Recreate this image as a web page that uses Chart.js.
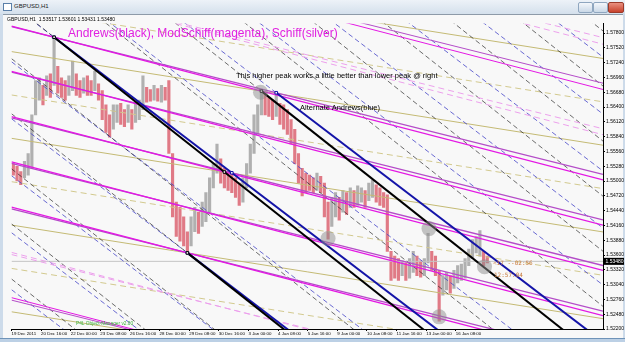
<!DOCTYPE html>
<html>
<head>
<meta charset="utf-8">
<script src="https://cdn.jsdelivr.net/npm/chart.js@4.4.1/dist/chart.umd.min.js"></script>
<style>
  html, body { margin:0; padding:0; }
  body { width:625px; height:342px; overflow:hidden; position:relative; background:#cddbea; font-family:"Liberation Sans", Arial, sans-serif; }
  .titlebar { position:absolute; left:0; top:0; width:625px; height:14px; background:linear-gradient(#edf2f8,#d4e0ec); }
  .ico { position:absolute; left:3px; top:3px; width:7px; height:6px; border:1px solid #5a7fa8; background:#fff; }
  .ttl { position:absolute; left:14px; top:3px; font-size:6px; color:#1a1a1a; }
  .btn { position:absolute; top:2px; height:9px; border:1px solid #8fa6bf; border-radius:2px; background:linear-gradient(#f4f7fb,#cad8e7); }
  .btn.close { background:linear-gradient(#e99080,#c8422c); border-color:#9b3a2a; }
  .panel { position:absolute; left:3px; top:14px; width:620px; height:324px; background:#f8f8f8; border-top:1px solid #8d9aa8; box-sizing:border-box; }
  .bottom { position:absolute; left:0; top:338px; width:625px; height:4px; background:#bcd0e5; border-top:1px solid #6f93b8; box-sizing:border-box; }
  #wrap { position:absolute; left:4px; top:16px; width:620px; height:322px; }
  .txt { position:absolute; white-space:nowrap; line-height:1; }
</style>
</head>
<body>
<div class="titlebar"></div>
<div class="ico"></div>
<div class="ttl">GBPUSD,H1</div>
<div class="btn" style="left:578px;width:13px"></div>
<div class="btn" style="left:593px;width:13px"></div>
<div class="btn close" style="left:608px;width:14px"></div>
<div class="panel"></div>
<div class="bottom"></div>
<div id="wrap"><canvas id="chart" width="620" height="322"></canvas></div>

<div class="txt" style="left:7px;top:17px;font-size:5px;color:#000">GBPUSD,H1&nbsp; 1.53517 1.53601 1.53431 1.53480</div>
<div class="txt" style="left:68px;top:27px;font-size:12px;color:#e020e0">Andrews(black), ModSchiff(magenta), Schiff(silver)</div>
<div class="txt" style="left:236px;top:72px;font-size:7.5px;color:#000">This higher peak works a little better than lower peak @ right</div>
<div class="txt" style="left:300px;top:104px;font-size:7.5px;color:#000">Alternate Andrews(blue)</div>
<div class="txt" style="left:493px;top:260px;font-size:6px;color:#c87a3c;font-family:'DejaVu Sans Mono',monospace">&lt;17 --02:56</div>
<div class="txt" style="left:494px;top:272px;font-size:6px;color:#c87a3c;font-family:'DejaVu Sans Mono',monospace">12:57:04</div>
<div class="txt" style="left:76px;top:322px;font-size:4.8px;color:#3cb43c">P4L Object-Manager v2.00</div>

<script>
// time axis: one unit = one H1 bar, labels every 32 bars
var xLabels = ['19 Dec 2011', '20 Dec 16:00', '22 Dec 00:00', '23 Dec 08:00', '26 Dec 16:00', '28 Dec 00:00',
  '29 Dec 08:00', '30 Dec 16:00', '3 Jan 00:00', '4 Jan 08:00', '5 Jan 16:00', '9 Jan 00:00',
  '10 Jan 08:00', '11 Jan 16:00', '13 Jan 00:00', '16 Jan 08:00'];
var xLabelBars = [0, 32, 64, 96, 128, 160, 192, 224, 256, 288, 320, 352, 384, 416, 448, 480];
var yTicks = [1.52200, 1.52480, 1.52760, 1.53040, 1.53320, 1.53600, 1.53880, 1.54160, 1.54440, 1.54720, 1.55000,
  1.55280, 1.55560, 1.55840, 1.56120, 1.56400, 1.56680, 1.56960, 1.57240, 1.57520, 1.57800];

// price samples, one every 4 bars (high / low)
var sampleStep = 4;
var highs = [1.5533, 1.5528, 1.5518, 1.5537, 1.5552, 1.5625, 1.5690, 1.5695, 1.5681, 1.5699,
  1.5703, 1.5773, 1.5717, 1.5695, 1.5690, 1.5699, 1.5727, 1.5703, 1.5690, 1.5695,
  1.5699, 1.5690, 1.5708, 1.5684, 1.5671, 1.5644, 1.5625, 1.5644, 1.5644, 1.5647,
  1.5635, 1.5644, 1.5635, 1.5647, 1.5653, 1.5699, 1.5677, 1.5673, 1.5681, 1.5675,
  1.5681, 1.5677, 1.5690, 1.5552, 1.5460, 1.5450, 1.5432, 1.5404, 1.5432, 1.5450,
  1.5441, 1.5460, 1.5478, 1.5506, 1.5533, 1.5570, 1.5542, 1.5524, 1.5518, 1.5515,
  1.5506, 1.5496, 1.5506, 1.5533, 1.5570, 1.5625, 1.5644, 1.5671, 1.5666, 1.5658,
  1.5653, 1.5668, 1.5647, 1.5644, 1.5635, 1.5616, 1.5598, 1.5552, 1.5524, 1.5515,
  1.5511, 1.5506, 1.5515, 1.5509, 1.5496, 1.5460, 1.5469, 1.5478, 1.5469, 1.5482,
  1.5478, 1.5487, 1.5482, 1.5491, 1.5487, 1.5482, 1.5496, 1.5502, 1.5493, 1.5487,
  1.5478, 1.5474, 1.5367, 1.5358, 1.5353, 1.5349, 1.5345, 1.5353, 1.5367, 1.5358,
  1.5349, 1.5353, 1.5401, 1.5367, 1.5358, 1.5331, 1.5321, 1.5327, 1.5321, 1.5331,
  1.5340, 1.5343, 1.5353, 1.5371, 1.5389, 1.5395, 1.5406, 1.5367, 1.5358];
var lows = [1.5511, 1.5500, 1.5493, 1.5506, 1.5511, 1.5524, 1.5625, 1.5653, 1.5644, 1.5662,
  1.5658, 1.5681, 1.5666, 1.5658, 1.5653, 1.5662, 1.5671, 1.5662, 1.5658, 1.5666,
  1.5662, 1.5662, 1.5671, 1.5653, 1.5616, 1.5592, 1.5583, 1.5598, 1.5611, 1.5607,
  1.5603, 1.5611, 1.5598, 1.5611, 1.5616, 1.5635, 1.5649, 1.5651, 1.5653, 1.5651,
  1.5649, 1.5653, 1.5552, 1.5432, 1.5395, 1.5386, 1.5377, 1.5364, 1.5377, 1.5404,
  1.5401, 1.5414, 1.5423, 1.5441, 1.5487, 1.5515, 1.5496, 1.5487, 1.5482, 1.5478,
  1.5469, 1.5454, 1.5460, 1.5487, 1.5515, 1.5552, 1.5588, 1.5625, 1.5625, 1.5622,
  1.5616, 1.5622, 1.5607, 1.5598, 1.5588, 1.5570, 1.5533, 1.5496, 1.5472, 1.5478,
  1.5482, 1.5478, 1.5482, 1.5478, 1.5432, 1.5390, 1.5414, 1.5432, 1.5426, 1.5441,
  1.5437, 1.5450, 1.5450, 1.5454, 1.5460, 1.5450, 1.5463, 1.5469, 1.5460, 1.5454,
  1.5450, 1.5367, 1.5312, 1.5316, 1.5312, 1.5321, 1.5312, 1.5316, 1.5327, 1.5321,
  1.5318, 1.5321, 1.5345, 1.5331, 1.5321, 1.5235, 1.5284, 1.5294, 1.5288, 1.5297,
  1.5307, 1.5312, 1.5316, 1.5340, 1.5353, 1.5364, 1.5358, 1.5340, 1.5345];
var lastPrice = 1.53480;

// pitchfork anchors (bar, price)
var p0 = { x: 46, y: 1.5772 };
var p1 = { x: 190, y: 1.5364 };
var p2Black = { x: 270, y: 1.5670 };
var p2Blue = { x: 286, y: 1.5667 };
var andrewsLevels = [-4, -3.5, -3, -2.5, -2, -1.5, -1, -0.5, 0, 0.5, 1, 1.5, 2, 2.5, 3];
var schiffLevels = [-2.5, -2, -1.5, -1, -0.5, 0, 0.5, 1, 1.5, 2, 2.5];

// grey highlight circles
var circleBars = [269, 342, 451, 511, 462];
var circlePrices = [1.5668, 1.5391, 1.5410, 1.5338, 1.5243];

var X_MIN = 0, X_MAX = 639;

function forkLine(h, a, b, level) {
  var m = { x: (a.x + b.x) / 2, y: (a.y + b.y) / 2 };
  var q = { x: m.x + level * (a.x - m.x), y: m.y + level * (a.y - m.y) };
  var k = (m.y - h.y) / (m.x - h.x);
  return function(x) { return q.y + (x - q.x) * k; };
}

function lineDs(f, x0, x1, color, width, dash, order) {
  return {
    type: 'line',
    data: [{ x: x0, y: f(x0) }, { x: x1, y: f(x1) }],
    borderColor: color, borderWidth: width, borderDash: dash || [],
    pointRadius: 0, fill: false, tension: 0, order: order
  };
}

var datasets = [];

// price bars
var barColors = highs.map(function(h, i) {
  if (i === 0) return '#e07a86';
  return (h + lows[i]) > (highs[i - 1] + lows[i - 1]) ? '#b0b0b0' : '#e07a86';
});
datasets.push({
  type: 'bar',
  data: highs.map(function(h, i) { return { x: i * sampleStep + 2, y: [lows[i], h] }; }),
  backgroundColor: barColors,
  barThickness: 2.5,
  grouped: false,
  order: 20
});

// bid line
datasets.push(lineDs(function() { return lastPrice; }, X_MIN, X_MAX, '#c4c4c4', 1, [], 19));

// Schiff (drawn khaki)
var schiffHandle = { x: p0.x, y: (p0.y + p1.y) / 2 };
schiffLevels.forEach(function(L) {
  var f = forkLine(schiffHandle, p1, p2Black, L);
  var whole = L % 1 === 0;
  datasets.push(lineDs(f, X_MIN, X_MAX, whole ? '#c4ba74' : '#d2c98e', 1, whole ? [] : [6, 4], 12));
});

// Modified Schiff (magenta), black and blue variants
var modHandle = { x: (p0.x + p1.x) / 2, y: (p0.y + p1.y) / 2 };
[[p2Black, '#e418e4'], [p2Blue, '#b44cc8']].forEach(function(v) {
  schiffLevels.forEach(function(L) {
    var f = forkLine(modHandle, p1, v[0], L);
    if (Math.abs(L) <= 1) datasets.push(lineDs(f, X_MIN, X_MAX, v[1], 1.3, [], 6));
    else if (L % 1 === 0) datasets.push(lineDs(f, X_MIN, X_MAX, v[1], 1, [], 8));
    else datasets.push(lineDs(f, X_MIN, X_MAX, '#eca0ec', 1, [6, 4], 9));
  });
});

// Andrews (black) and alternate Andrews (blue)
[[p2Black, '#000000', 'rgba(30,30,30,0.65)'], [p2Blue, '#1414a8', 'rgba(70,70,200,0.8)']].forEach(function(v) {
  andrewsLevels.forEach(function(L) {
    var f = forkLine(p0, p1, v[0], L);
    datasets.push(lineDs(f, X_MIN, X_MAX, v[2], 1, [5, 3], 10));
    if (L === 0) datasets.push(lineDs(f, p0.x, X_MAX, v[1], 2, [], 3));
    if (L === 1) datasets.push(lineDs(f, p1.x, X_MAX, v[1], 2, [], 3));
    if (L === -1) datasets.push(lineDs(f, v[0].x, X_MAX, v[1], 2, [], 3));
  });
});

// anchor markers
[[p2Black, '#000'], [p2Blue, '#1414a8']].forEach(function(v) {
  var mid = { x: (p1.x + v[0].x) / 2, y: (p1.y + v[0].y) / 2 };
  datasets.push({
    type: 'scatter', data: [p0, p1, v[0], mid],
    pointStyle: 'rect', pointRadius: 1.8, backgroundColor: '#fff', borderColor: v[1], borderWidth: 1, order: 1
  });
});

// highlight circles
datasets.push({
  type: 'scatter',
  data: circleBars.map(function(b, i) { return { x: b, y: circlePrices[i] }; }),
  pointRadius: 7.5, backgroundColor: 'rgba(140,140,140,0.5)', borderWidth: 0, order: 0
});

var priceTag = {
  id: 'priceTag',
  afterDraw: function(chart) {
    var ctx = chart.ctx, a = chart.chartArea;
    var y = chart.scales.y.getPixelForValue(lastPrice);
    ctx.save();
    ctx.fillStyle = '#000';
    ctx.fillRect(a.right + 1, y - 3.5, 20, 7);
    ctx.fillStyle = '#fff';
    ctx.font = '5px "Liberation Sans"';
    ctx.textBaseline = 'middle';
    ctx.fillText(lastPrice.toFixed(5), a.right + 2.5, y + 0.3);
    ctx.restore();
  }
};

new Chart(document.getElementById('chart'), {
  type: 'bar',
  data: { datasets: datasets },
  plugins: [priceTag],
  options: {
    responsive: false,
    animation: false,
    events: [],
    layout: { padding: 0 },
    plugins: { legend: { display: false }, tooltip: { enabled: false } },
    scales: {
      x: {
        type: 'linear', min: X_MIN, max: X_MAX, offset: false,
        grid: { display: true, drawOnChartArea: false, tickLength: 2, color: '#000', offset: false },
        border: { display: true, color: '#000', width: 1 },
        ticks: {
          autoSkip: false, maxRotation: 0, align: 'start', padding: 0, color: '#000',
          font: { size: 4.4, family: 'Liberation Sans' },
          callback: function(v) { var k = xLabelBars.indexOf(v); return k < 0 ? '' : xLabels[k]; }
        },
        afterBuildTicks: function(s) { s.ticks = xLabelBars.map(function(v) { return { value: v }; }); },
        afterFit: function(s) { s.height = 9; s.paddingLeft = 0; s.paddingRight = 0; }
      },
      y: {
        type: 'linear', position: 'right', min: 1.5220, max: 1.5798,
        grid: { display: true, drawOnChartArea: false, tickLength: 2, color: '#000' },
        border: { display: true, color: '#000', width: 1 },
        ticks: {
          autoSkip: false, padding: 1, color: '#000',
          font: { size: 5, family: 'Liberation Sans' },
          callback: function(v) { return Number(v).toFixed(5); }
        },
        afterBuildTicks: function(s) { s.ticks = yTicks.map(function(v) { return { value: v }; }); },
        afterFit: function(s) { s.width = 21; s.paddingTop = 0; s.paddingBottom = 0; }
      }
    }
  }
});
</script>
</body>
</html>
